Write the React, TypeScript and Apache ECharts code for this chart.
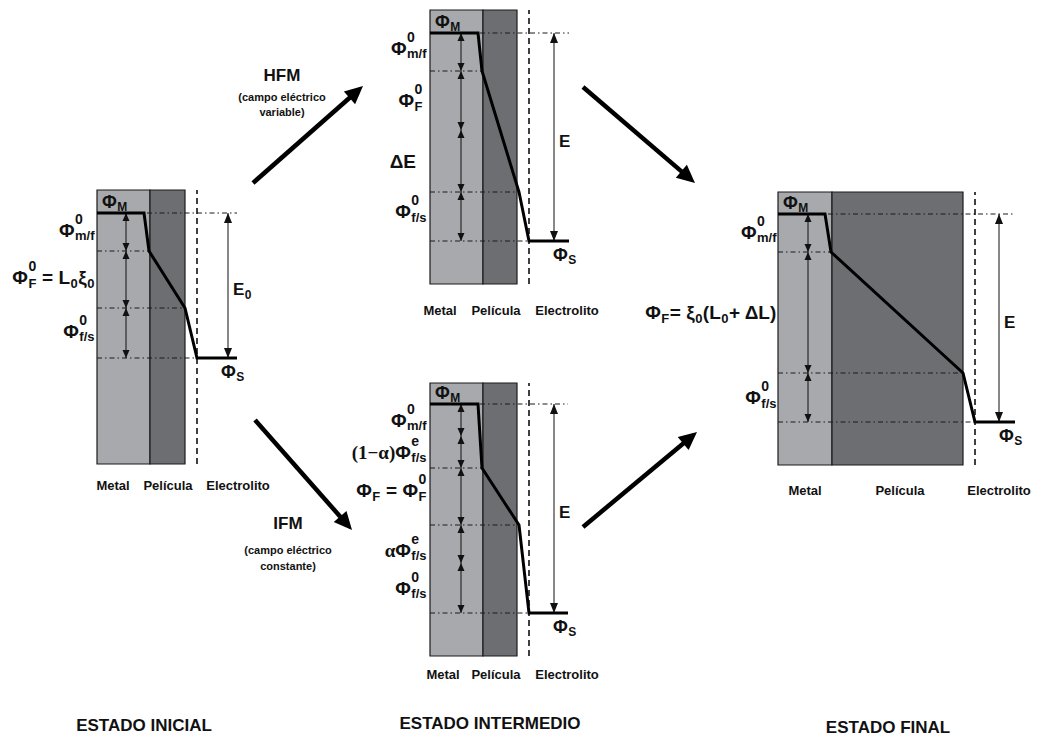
import React, { useEffect, useRef } from "react";
import * as echarts from "echarts";

// ---------------- data ----------------
// distance through each diagram (arbitrary units, 0 = outer metal face)
const metalEnd = [53, 53, 53, 54];
const filmEnd = [88, 87, 87, 185];
const electrolyteX = [100, 99, 99, 197];
const profileX = [
  [0, 47, 52, 88, 100, 140],
  [0, 48, 52, 89, 99, 139],
  [0, 48, 52, 89, 99, 138],
  [0, 47, 53, 185, 197, 237],
];
// electric potential (arbitrary units, Φ_S = 0)
const profileV = [
  [145, 145, 107, 50, 0, 0],
  [208, 208, 170, 49, 0, 0],
  [209, 209, 145, 88, 0, 0],
  [208, 208, 170, 49, 0, 0],
];
// boundaries of the potential drops marked with double arrows
const dropLevels = [
  [145, 107, 50, 0],
  [208, 170, 111, 49, 0],
  [209, 177, 145, 88, 50, 0],
  [208, 170, 49, 0],
];
const dropArrowX = [29, 31, 31, 30];
const totalArrowX = [131, 124, 124, 221];
const axisMin = [-106, -43, -43, -43];
const axisMax = [168, 231, 230, 230];
const zoneLabels = ["Metal", "Película", "Electrolito"];
const stateTitles = ["ESTADO INICIAL", "ESTADO INTERMEDIO", "ESTADO FINAL"];
const pathNames = ["HFM", "IFM"];
const pathNotes = [
  ["(campo eléctrico", "variable)"],
  ["(campo eléctrico", "constante)"],
];

// ---------------- layout ----------------
const GRIDS = [
  { left: 97, top: 190, width: 160, height: 274 },
  { left: 430, top: 10, width: 160, height: 274 },
  { left: 430, top: 383, width: 160, height: 273 },
  { left: 778, top: 192, width: 260, height: 273 },
];
const zoneLabelPos = [
  [[113, 485], [168, 485], [238, 485]],
  [[440, 310], [496, 310], [567, 310]],
  [[443, 674], [496, 674], [567, 674]],
  [[805, 490], [900, 490], [999, 490]],
];
const titlePos = [[144, 725], [490, 723], [888, 727]];
const bigArrows = [
  [253, 183, 363, 86],
  [255, 420, 352, 530],
  [583, 87, 695, 183],
  [583, 527, 697, 432],
];
const pathTextPos = [[282, 75], [288, 523]];

const METAL = "#a7a9ac";
const FILM = "#6d6e71";
const INK = "#111";
const SANS = '"Liberation Sans", Arial, Helvetica, sans-serif';
const SERIF = '"Liberation Serif", "Times New Roman", serif';

let mctx: CanvasRenderingContext2D | null = null;
function textWidth(t: string, size: number, fam: string) {
  if (!mctx) mctx = document.createElement("canvas").getContext("2d");
  mctx!.font = `bold ${size}px ${fam}`;
  return mctx!.measureText(t).width;
}

function txt(text: string, x: number, y: number, size: number, fam = SANS, align = "left") {
  return {
    type: "text",
    x,
    y,
    silent: true,
    z: 100,
    style: {
      text,
      fill: INK,
      fontSize: size,
      fontWeight: "bold",
      fontFamily: fam,
      align,
      verticalAlign: "middle",
      textAlign: align,
      textVerticalAlign: "middle",
    },
  };
}

type Tok = string[];
function formula(toks: Tok[], x: number, cy: number, anchor: "left" | "right", main: number) {
  const sup = Math.round(main * 0.74);
  const sub = Math.round(main * 0.68);
  const parts = toks.map(([k, a, b]) => {
    if (k === "m") return { k, a, b, w: textWidth(a, main, SANS) };
    if (k === "r") return { k, a, b, w: textWidth(a, main, SERIF) };
    if (k === "sub") return { k, a, b, w: textWidth(a, sub, SANS) + 1 };
    return { k, a, b, w: Math.max(textWidth(a, sup, SANS), textWidth(b, sub, SANS)) + 1 };
  });
  const total = parts.reduce((s, p) => s + p.w, 0);
  let cx = anchor === "right" ? x - total : x;
  const out: any[] = [];
  for (const p of parts) {
    if (p.k === "m") out.push(txt(p.a, cx, cy, main));
    else if (p.k === "r") out.push(txt(p.a, cx, cy, main, SERIF));
    else if (p.k === "sub") out.push(txt(p.a, cx + 0.5, cy + main * 0.3, sub));
    else {
      out.push(txt(p.a, cx + 0.5, cy - main * 0.6, sup));
      out.push(txt(p.b, cx + 0.5, cy + main * 0.3, sub));
    }
    cx += p.w;
  }
  return out;
}

// label token lists
const L_MF: Tok[] = [["m", "Φ"], ["ss", "0", "m/f"]];
const L_FS: Tok[] = [["m", "Φ"], ["ss", "0", "f/s"]];
const L_F0: Tok[] = [["m", "Φ"], ["ss", "0", "F"]];
const L_F_INI: Tok[] = [["m", "Φ"], ["ss", "0", "F"], ["m", " = L"], ["sub", "0"], ["m", "ξ"], ["sub", "0"]];
const L_DE: Tok[] = [["m", "ΔE"]];
const L_1A: Tok[] = [["r", "(1−α)"], ["m", "Φ"], ["ss", "e", "f/s"]];
const L_FEQ: Tok[] = [["m", "Φ"], ["sub", "F"], ["m", " = Φ"], ["ss", "0", "F"]];
const L_A: Tok[] = [["r", "α"], ["m", "Φ"], ["ss", "e", "f/s"]];
const L_F_FIN: Tok[] = [["m", "Φ"], ["sub", "F"], ["m", "= ξ"], ["sub", "0"], ["m", "(L"], ["sub", "0"], ["m", "+ ΔL)"]];
// [tokens, segment index, dx from metal face (px), dy (px)]
const sideLabels: [Tok[], number, number, number][][] = [
  [[L_MF, 0, -2, -2], [L_F_INI, 1, -2, -2], [L_FS, 2, -2, -2]],
  [[L_MF, 0, -3, -4], [L_F0, 1, -7, 0], [L_DE, 2, -14, 0], [L_FS, 3, -3, -5]],
  [[L_MF, 0, -3, 0], [L_1A, 1, -3, 0], [L_FEQ, 2, -3, -6], [L_A, 3, -3, 6], [L_FS, 4, -3, 0]],
  [[L_MF, 0, -1, -1], [L_F_FIN, 1, -1, 0], [L_FS, 2, -1, 0]],
];
const eLabels: Tok[][] = [
  [["m", "E"], ["sub", "0"]],
  [["m", "E"]],
  [["m", "E"]],
  [["m", "E"]],
];

function head(tip: number[], from: number[], len: number, half: number) {
  const dx = tip[0] - from[0];
  const dy = tip[1] - from[1];
  const L = Math.hypot(dx, dy) || 1;
  const ux = dx / L;
  const uy = dy / L;
  const bx = tip[0] - ux * len;
  const by = tip[1] - uy * len;
  return [
    [tip[0], tip[1]],
    [bx - uy * half, by + ux * half],
    [bx + uy * half, by - ux * half],
  ];
}

function renderShape(_params: any, api: any) {
  const kind = api.value(4);
  const p1 = api.coord([api.value(0), api.value(1)]);
  const p2 = api.coord([api.value(2), api.value(3)]);
  if (kind === 0 || kind === 1) {
    return {
      type: "rect",
      shape: { x: p1[0], y: p2[1], width: p2[0] - p1[0], height: p1[1] - p2[1] },
      style: { fill: kind === 0 ? METAL : FILM, stroke: "#1b1b1b", lineWidth: 1.2 },
    };
  }
  const seg = { x1: p1[0], y1: p1[1], x2: p2[0], y2: p2[1] };
  if (kind === 2) {
    return { type: "line", shape: seg, style: { stroke: "#1a1a1a", lineWidth: 1, lineDash: [5, 3, 1.5, 3] } };
  }
  if (kind === 3) {
    return { type: "line", shape: seg, style: { stroke: "#111", lineWidth: 1.6, lineDash: [6, 4] } };
  }
  const len = kind === 4 ? 8 : 10;
  const half = kind === 4 ? 3.5 : 4;
  return {
    type: "group",
    children: [
      { type: "line", shape: seg, style: { stroke: "#111", lineWidth: 1 } },
      { type: "polygon", shape: { points: head(p1, p2, len, half) }, style: { fill: "#111" } },
      { type: "polygon", shape: { points: head(p2, p1, len, half) }, style: { fill: "#111" } },
    ],
  };
}

function panelShapes(p: number) {
  const d: number[][] = [];
  d.push([0, axisMin[p], metalEnd[p], axisMax[p], 0]);
  d.push([metalEnd[p], axisMin[p], filmEnd[p], axisMax[p], 1]);
  const px = profileX[p];
  const pv = profileV[p];
  d.push([0, pv[0], px[5], pv[0], 2]);
  d.push([0, pv[2], px[2], pv[2], 2]);
  d.push([0, pv[3], px[3], pv[3], 2]);
  d.push([0, pv[4], px[4], pv[4], 2]);
  d.push([electrolyteX[p], axisMin[p], electrolyteX[p], axisMax[p], 3]);
  const lv = dropLevels[p];
  for (let i = 0; i < lv.length - 1; i++) d.push([dropArrowX[p], lv[i], dropArrowX[p], lv[i + 1], 4]);
  d.push([totalArrowX[p], pv[0], totalArrowX[p], pv[5], 5]);
  return d;
}

function baseOption() {
  const series: any[] = [];
  GRIDS.forEach((_g, p) => {
    series.push({
      type: "custom",
      xAxisIndex: p,
      yAxisIndex: p,
      data: panelShapes(p),
      renderItem: renderShape,
      clip: false,
      silent: true,
      z: 2,
    });
  });
  GRIDS.forEach((_g, p) => {
    series.push({
      type: "line",
      xAxisIndex: p,
      yAxisIndex: p,
      data: profileX[p].map((x, i) => [x, profileV[p][i]]),
      symbol: "none",
      showSymbol: false,
      silent: true,
      lineStyle: { color: "#000", width: 3, join: "miter" },
      z: 5,
    });
  });
  return {
    animation: false,
    backgroundColor: "#fff",
    grid: GRIDS.map((g) => ({ ...g, containLabel: false })),
    xAxis: GRIDS.map((g, i) => ({ type: "value", gridIndex: i, min: 0, max: g.width, show: false })),
    yAxis: GRIDS.map((_g, i) => ({ type: "value", gridIndex: i, min: axisMin[i], max: axisMax[i], show: false })),
    series,
  };
}

function buildGraphic(chart: any) {
  const els: any[] = [];
  // transition arrows
  bigArrows.forEach(([x1, y1, x2, y2]) => {
    const pts = head([x2, y2], [x1, y1], 18, 8.5);
    const ux = (x2 - x1) / Math.hypot(x2 - x1, y2 - y1);
    const uy = (y2 - y1) / Math.hypot(x2 - x1, y2 - y1);
    els.push({
      type: "line",
      silent: true,
      shape: { x1, y1, x2: x2 - ux * 14, y2: y2 - uy * 14 },
      style: { stroke: "#000", lineWidth: 4.5 },
    });
    els.push({ type: "polygon", silent: true, shape: { points: pts }, style: { fill: "#000" } });
  });
  pathNames.forEach((n, i) => {
    const [x, y] = pathTextPos[i];
    els.push(txt(n, x, y, 17, SANS, "center"));
    els.push(txt(pathNotes[i][0], x, y + (i === 0 ? 22 : 27), 11, SANS, "center"));
    els.push(txt(pathNotes[i][1], x, y + (i === 0 ? 37 : 43), 11, SANS, "center"));
  });
  stateTitles.forEach((t, i) => {
    els.push(txt(t, titlePos[i][0], titlePos[i][1], 17, SANS, "center"));
  });
  zoneLabelPos.forEach((row) => {
    row.forEach(([x, y], j) => els.push(txt(zoneLabels[j], x, y, 13, SANS, "center")));
  });
  // per-diagram formula labels
  GRIDS.forEach((_g, p) => {
    const px = (x: number, v: number) => chart.convertToPixel({ gridIndex: p }, [x, v]);
    const top = px(0, profileV[p][0]);
    const bot = px(electrolyteX[p], 0);
    els.push(...formula([["m", "Φ"], ["sub", "M"]], top[0] + 5, top[1] - 11, "left", 18));
    els.push(...formula([["m", "Φ"], ["sub", "S"]], bot[0] + 24, bot[1] + 14, "left", 18));
    const lv = dropLevels[p];
    sideLabels[p].forEach(([toks, seg, dx, dy]) => {
      const a = px(0, lv[seg]);
      const b = px(0, lv[seg + 1]);
      els.push(...formula(toks, a[0] + dx, (a[1] + b[1]) / 2 + dy, "right", 19));
    });
    const ea = px(totalArrowX[p], profileV[p][0]);
    const eb = px(totalArrowX[p], 0);
    els.push(...formula(eLabels[p], ea[0] + 5, (ea[1] + eb[1]) / 2 + 4, "left", 17));
  });
  return { elements: els };
}

export default function App() {
  const ref = useRef<HTMLDivElement>(null);
  useEffect(() => {
    document.body.style.margin = "0";
    const chart = echarts.init(ref.current!, null, { renderer: "svg" });
    chart.setOption(baseOption() as any);
    chart.setOption({ graphic: buildGraphic(chart) } as any);
    return () => chart.dispose();
  }, []);
  return <div ref={ref} style={{ width: 1038, height: 737, background: "#fff" }} />;
}
